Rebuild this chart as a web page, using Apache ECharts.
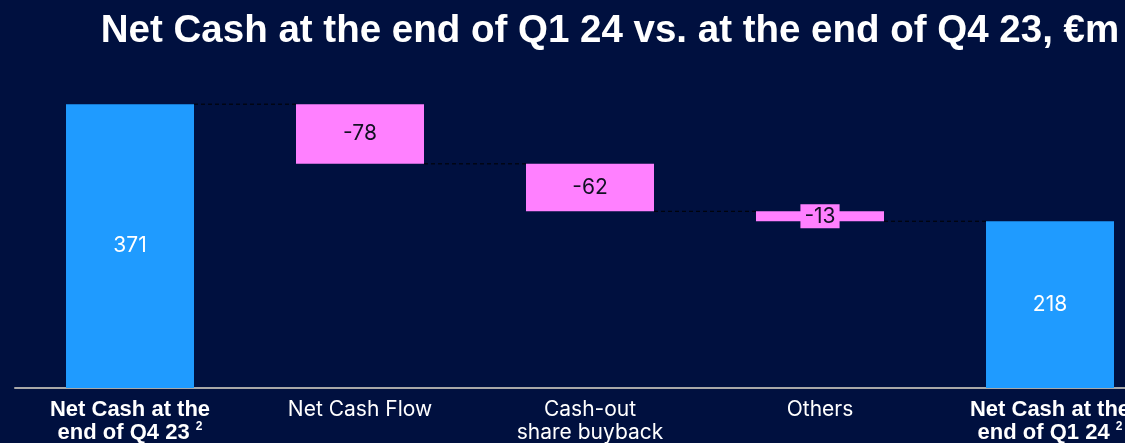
<!DOCTYPE html>
<html>
<head>
<meta charset="utf-8"/>
<title>Net Cash waterfall</title>
<script src="https://cdn.jsdelivr.net/npm/echarts@6/dist/echarts.min.js"></script>
<style>
  html, body { margin: 0; padding: 0; background: #00103f; }
</style>
</head>
<body>
<div id="chart" style="width:1125px;height:443px;"></div>
<script type="text/javascript">

// data
var categories = ['Net Cash at the\nend of Q4 23', 'Net Cash Flow', 'Cash-out\nshare buyback', 'Others', 'Net Cash at the\nend of Q1 24'];
var values = [371, -78, -62, -13, 218];
var isTotal = [true, false, false, false, true];

var blue = '#1f9bff';
var pink = '#ff80ff';

// build the waterfall: invisible base + visible part
var baseArr = [], barArr = [], levels = [];
var running = 0;
for (var i = 0; i < values.length; i++) {
    if (isTotal[i]) {
        running = values[i];
        baseArr.push(0);
        barArr.push({
            value: values[i],
            itemStyle: { color: blue },
            label: { color: '#ffffff' }
        });
    } else {
        var next = running + values[i];
        baseArr.push(Math.min(running, next));
        barArr.push({
            value: Math.abs(values[i]),
            itemStyle: { color: pink },
            label: Math.abs(values[i]) < 20 ? { backgroundColor: pink, padding: [2, 4, 1, 4] } : {}
        });
        running = next;
    }
    levels.push(running);
}
// connector lines between neighbouring bars
var connectors = [];
for (var i = 0; i < values.length - 1; i++) {
    connectors.push([i, levels[i]]);
}

var chart = echarts.init(document.getElementById('chart'));

var option = {
    backgroundColor: '#00103f',
    animation: false,
    title: {
        text: 'Net Cash at the end of Q1 24 vs. at the end of Q4 23, €m',
        left: 605,
        textAlign: 'center',
        top: 7,
        textStyle: {
            color: '#ffffff',
            fontFamily: 'Liberation Sans',
            fontWeight: 'bold',
            fontSize: 38.5
        }
    },
    grid: {
        left: 15,
        width: 1150,
        top: 82,
        bottom: 55,
        outerBoundsMode: 'none',
        containLabel: false
    },
    xAxis: {
        type: 'category',
        data: categories,
        axisTick: { show: false },
        axisLine: { lineStyle: { color: '#a8a8a8', width: 2 } },
        axisLabel: {
            margin: 10,
            interval: 0,
            formatter: function (v, idx) {
                if (isTotal[idx]) {
                    var parts = v.split('\n');
                    return '{b|' + parts[0] + '}\n{b|' + parts[1] + ' }{sup|2}';
                }
                return v.split('\n').map(function (s) { return '{r|' + s + '}'; }).join('\n');
            },
            rich: {
                b: {
                    color: '#ffffff',
                    fontFamily: 'Liberation Sans',
                    fontWeight: 'bold',
                    fontSize: 22,
                    lineHeight: 23
                },
                r: {
                    color: '#ffffff',
                    fontFamily: 'Inter',
                    fontSize: 21,
                    lineHeight: 23
                },
                sup: {
                    color: '#ffffff',
                    fontFamily: 'Liberation Sans',
                    fontWeight: 'bold',
                    fontSize: 12,
                    lineHeight: 23,
                    verticalAlign: 'top',
                    padding: [0, 0, 10, 0]
                }
            }
        }
    },
    yAxis: {
        type: 'value',
        min: 0,
        max: 400,
        show: false,
        splitLine: { show: false }
    },
    series: [
        {
            name: 'base',
            type: 'bar',
            stack: 'wf',
            barWidth: 128,
            itemStyle: { color: 'transparent' },
            data: baseArr,
            silent: true
        },
        {
            name: 'value',
            type: 'bar',
            stack: 'wf',
            barWidth: 128,
            data: barArr,
            label: {
                show: true,
                position: 'inside',
                fontFamily: 'Inter',
                fontSize: 21,
                color: '#111122',
                formatter: function (p) {
                    return String(values[p.dataIndex]);
                }
            }
        },
        {
            name: 'connector',
            type: 'custom',
            z: 1,
            data: connectors,
            renderItem: function (params, api) {
                var idx = api.value(0);
                var lvl = api.value(1);
                var a = api.coord([idx, lvl]);
                var b = api.coord([idx + 1, lvl]);
                var half = 64;
                return {
                    type: 'line',
                    shape: { x1: a[0] + half, y1: a[1], x2: b[0] - half, y2: b[1] },
                    style: { stroke: '#000000', lineWidth: 1, lineDash: [4, 3] }
                };
            }
        }
    ]
};
chart.setOption(option);
</script>
</body>
</html>
